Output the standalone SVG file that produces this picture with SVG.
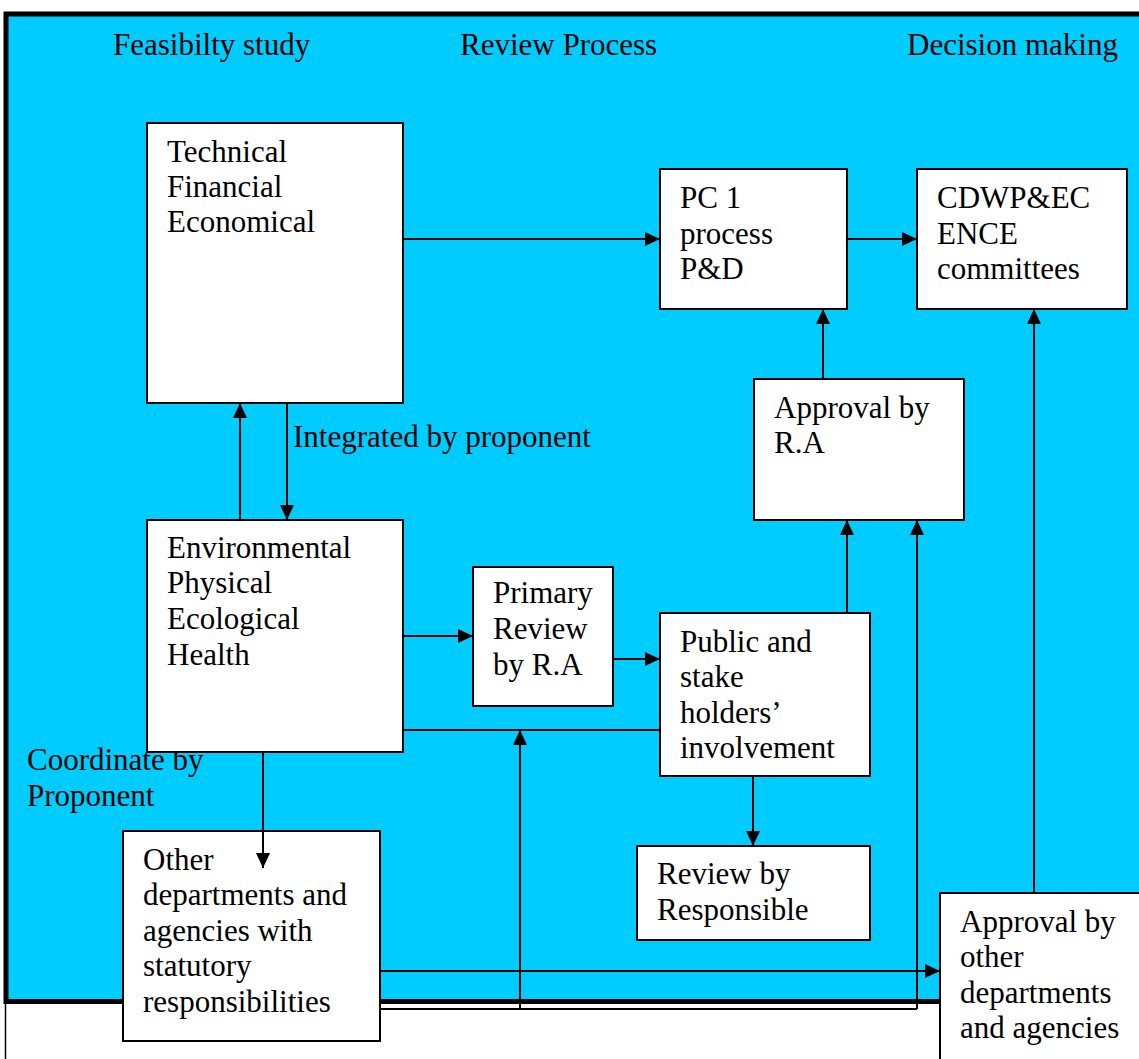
<svg xmlns="http://www.w3.org/2000/svg" width="1139" height="1059" viewBox="0 0 1139 1059">
<style>
.bg{fill:#00CCFF;stroke:#000;stroke-width:5}
.node{fill:#fff;stroke:#000;stroke-width:2}
text{font-family:"Liberation Serif","Times New Roman",serif;font-size:31px;fill:#000}
.c{fill:none;stroke:#000;stroke-width:2}
</style>
<defs>
<marker id="ah" viewBox="0 0 15 14" refX="15" refY="7" markerWidth="15" markerHeight="14" markerUnits="userSpaceOnUse" orient="auto">
<path d="M0,0 L15,7 L0,14 Z" fill="#000"/>
</marker>
</defs>
<rect x="0" y="0" width="1139" height="1059" fill="#fff"/>
<rect x="5.5" y="20" width="1150" height="1100" fill="#fff" stroke="#000" stroke-width="1.5"/>
<rect class="bg" x="6" y="14" width="1150" height="987.5"/>

<g id="headers">
<text x="113" y="55">Feasibilty study</text>
<text x="460" y="55">Review Process</text>
<text x="907" y="55">Decision making</text>
</g>
<g id="label-integrated"><text x="293" y="447">Integrated by proponent</text></g>
<g id="label-coordinate"><text x="27" y="770">Coordinate by</text><text x="27" y="806">Proponent</text></g>

<g id="n-technical"><rect class="node" x="147" y="123" width="256" height="280"/>
<text x="167" y="162">Technical</text><text x="167" y="197">Financial</text><text x="167" y="232">Economical</text></g>

<g id="n-pc1"><rect class="node" x="660" y="169" width="187" height="140"/>
<text x="680" y="208">PC 1</text><text x="680" y="244">process</text><text x="680" y="279">P&amp;D</text></g>

<g id="n-cdwp"><rect class="node" x="917" y="169" width="210" height="140"/>
<text x="937" y="208">CDWP&amp;EC</text><text x="937" y="244">ENCE</text><text x="937" y="279">committees</text></g>

<g id="n-approval-ra"><rect class="node" x="754" y="379" width="210" height="141"/>
<text x="774" y="418">Approval by</text><text x="774" y="453">R.A</text></g>

<g id="n-environmental"><rect class="node" x="147" y="520" width="256" height="232"/>
<text x="167" y="558">Environmental</text><text x="167" y="593">Physical</text><text x="167" y="629">Ecological</text><text x="167" y="665">Health</text></g>

<g id="n-primary"><rect class="node" x="473" y="567" width="140" height="139"/>
<text x="493" y="603">Primary</text><text x="493" y="639">Review</text><text x="493" y="675">by R.A</text></g>

<g id="n-public"><rect class="node" x="660" y="613" width="210" height="163"/>
<text x="680" y="652">Public and</text><text x="680" y="687">stake</text><text x="680" y="723">holders’</text><text x="680" y="758">involvement</text></g>

<g id="n-review-resp"><rect class="node" x="637" y="846" width="233" height="94"/>
<text x="657" y="884">Review by</text><text x="657" y="920">Responsible</text></g>

<g id="n-other"><rect class="node" x="123" y="831" width="257" height="210"/>
<text x="143" y="870">Other</text><text x="143" y="905">departments and</text><text x="143" y="941">agencies with</text><text x="143" y="976">statutory</text><text x="143" y="1012">responsibilities</text></g>

<g id="n-approval-other"><rect class="node" x="940" y="893" width="210" height="200"/>
<text x="960" y="932">Approval by</text><text x="960" y="967">other</text><text x="960" y="1003">departments</text><text x="960" y="1038">and agencies</text></g>

<g id="connectors">
<path class="c" d="M403,239 H660" marker-end="url(#ah)"/>
<path class="c" d="M847,239 H917" marker-end="url(#ah)"/>
<path class="c" d="M823,379 V309" marker-end="url(#ah)"/>
<path class="c" d="M1034,893 V309" marker-end="url(#ah)"/>
<path class="c" d="M240,520 V403" marker-end="url(#ah)"/>
<path class="c" d="M287,403 V520" marker-end="url(#ah)"/>
<path class="c" d="M403,636 H473" marker-end="url(#ah)"/>
<path class="c" d="M613,659 H660" marker-end="url(#ah)"/>
<path class="c" d="M403,730 H660"/>
<path class="c" d="M847,613 V520" marker-end="url(#ah)"/>
<path class="c" d="M753,776 V846" marker-end="url(#ah)"/>
<path class="c" d="M263,752 V868" marker-end="url(#ah)"/>
<path class="c" d="M380,971 H940" marker-end="url(#ah)"/>
<path class="c" d="M380,1009 H917"/>
<path class="c" d="M520,1009 V730" marker-end="url(#ah)"/>
<path class="c" d="M917,1009 V520" marker-end="url(#ah)"/>
</g>
</svg>
